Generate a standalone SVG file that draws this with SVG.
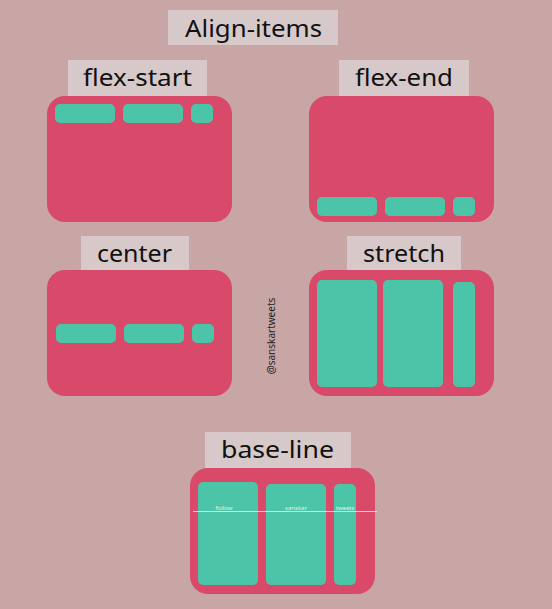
<svg xmlns="http://www.w3.org/2000/svg" width="552" height="609" viewBox="0 0 552 609">
<style>
.lbl{fill:#d7c9c9}
.lt{font-family:"Noto Sans","Open Sans",sans-serif;font-size:23px;fill:#111;text-anchor:middle}
.box{fill:#d8496a}
.it{fill:#4bc4a8}
.sm{font-family:"Noto Sans",sans-serif;font-size:6px;fill:#e8eee8;text-anchor:middle}
</style>
<rect width="552" height="609" fill="#c8a6a6"/>
<g id="title">
<rect class="lbl" x="168" y="10" width="170" height="35"/>
<text class="lt" x="253.5" y="37" textLength="137" lengthAdjust="spacingAndGlyphs">Align-items</text>
</g>
<g id="flex-start">
<rect class="lbl" x="68" y="60" width="139" height="36"/>
<text class="lt" x="137.5" y="86" textLength="109" lengthAdjust="spacingAndGlyphs">flex-start</text>
<rect class="box" x="47" y="96" width="185" height="126" rx="18"/>
<rect class="it" x="55" y="104" width="60" height="19" rx="5"/>
<rect class="it" x="123" y="104" width="60" height="19" rx="5"/>
<rect class="it" x="191" y="104" width="22" height="19" rx="5"/>
</g>
<g id="flex-end">
<rect class="lbl" x="339" y="60" width="130" height="36"/>
<text class="lt" x="404" y="86" textLength="98" lengthAdjust="spacingAndGlyphs">flex-end</text>
<rect class="box" x="309" y="96" width="185" height="126" rx="18"/>
<rect class="it" x="317" y="197" width="60" height="19" rx="5"/>
<rect class="it" x="385" y="197" width="60" height="19" rx="5"/>
<rect class="it" x="453" y="197" width="22" height="19" rx="5"/>
</g>
<g id="center">
<rect class="lbl" x="81" y="236" width="108" height="36"/>
<text class="lt" x="134.5" y="262" textLength="75" lengthAdjust="spacingAndGlyphs">center</text>
<rect class="box" x="47" y="270" width="185" height="126" rx="18"/>
<rect class="it" x="56" y="324" width="60" height="19" rx="5"/>
<rect class="it" x="124" y="324" width="60" height="19" rx="5"/>
<rect class="it" x="192" y="324" width="22" height="19" rx="5"/>
</g>
<g id="stretch">
<rect class="lbl" x="347" y="236" width="114" height="36"/>
<text class="lt" x="404" y="262" textLength="82" lengthAdjust="spacingAndGlyphs">stretch</text>
<rect class="box" x="309" y="270" width="185" height="126" rx="18"/>
<rect class="it" x="317" y="280" width="60" height="107" rx="5"/>
<rect class="it" x="383" y="280" width="60" height="107" rx="5"/>
<rect class="it" x="453" y="282" width="22" height="105" rx="5"/>
</g>
<g id="base-line">
<rect class="lbl" x="205" y="432" width="146" height="36"/>
<text class="lt" x="277.5" y="458" textLength="113" lengthAdjust="spacingAndGlyphs">base-line</text>
<rect class="box" x="190" y="468" width="185" height="126" rx="18"/>
<rect class="it" x="198" y="482" width="60" height="103" rx="5"/>
<rect class="it" x="266" y="484" width="60" height="101" rx="5"/>
<rect class="it" x="334" y="484" width="22" height="101" rx="5"/>
<text class="sm" x="224" y="510">follow</text>
<text class="sm" x="296" y="510">sanskar</text>
<text class="sm" x="345" y="510">tweets</text>
<line x1="193" y1="511.5" x2="377" y2="511.5" stroke="#f0f0f0" stroke-opacity="0.8" stroke-width="1"/>
</g>
<g id="watermark">
<text font-family="Noto Sans,sans-serif" font-size="10" fill="#222" text-anchor="middle" transform="translate(275,336) rotate(-90)">@sanskartweets</text>
</g>
</svg>
